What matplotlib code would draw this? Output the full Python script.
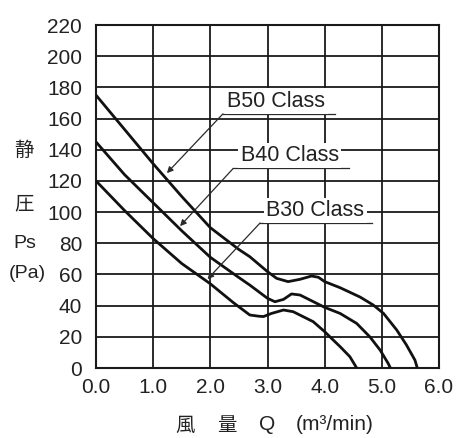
import numpy as np
import matplotlib
matplotlib.use("Agg")
import matplotlib.pyplot as plt

# P-Q curves
b50_q = [0.0, 0.5, 1.0, 1.5, 2.0, 2.5, 2.69, 3.0, 3.16, 3.36, 3.57, 3.77, 3.89, 4.0,
         4.27, 4.62, 4.85, 5.03, 5.26, 5.43, 5.58, 5.62]
b50_p = [175, 153, 131, 110, 90, 76, 71.4, 61.8, 57.5, 55.4, 56.9, 59, 58.2, 55.4,
         51.5, 45.5, 40.4, 35, 24.4, 14.8, 5, 0]

b40_q = [0.0, 0.5, 1.0, 1.5, 2.0, 2.5, 2.69, 3.0, 3.13, 3.28, 3.42, 3.57, 4.0,
         4.27, 4.56, 4.79, 4.97, 5.11, 5.15]
b40_p = [145, 124, 106, 88, 71, 58, 53.2, 44.7, 42.5, 44, 47.5, 46.8, 38.9,
         35, 28.6, 20, 11.5, 3, 0]

b30_q = [0.0, 0.5, 1.0, 1.5, 2.0, 2.4, 2.69, 2.85, 2.93, 3.07, 3.28, 3.45, 3.8,
         4.0, 4.12, 4.27, 4.44, 4.56]
b30_p = [120, 101, 83, 67, 54, 42, 34, 33.2, 33, 35, 37.2, 36.1, 29.7,
         23.3, 19, 13.7, 7.3, 0]

x_ticks = [0.0, 1.0, 2.0, 3.0, 4.0, 5.0, 6.0]
y_ticks = list(range(0, 221, 20))

LAT = ["Liberation Sans", "DejaVu Sans"]
CJK = ["Noto Sans CJK JP", "DejaVu Sans"]
TXT = "#222222"

fig = plt.figure(figsize=(4.58, 4.38), dpi=100)
ax = fig.add_axes([96 / 458, 70 / 438, 343 / 458, 343 / 438])

for q, p in [(b50_q, b50_p), (b40_q, b40_p), (b30_q, b30_p)]:
    ax.plot(q, p, color="#111111", lw=2.0, solid_joinstyle="round",
            solid_capstyle="round", zorder=3)

ax.set_xlim(0, 6)
ax.set_ylim(0, 220)
ax.set_xticks(x_ticks, labels=["{:.1f}".format(v) for v in x_ticks])
ax.set_yticks(y_ticks, labels=[str(v) for v in y_ticks])
ax.tick_params(length=0, labelsize=15, labelcolor=TXT)
ax.tick_params(axis="x", pad=7)
ax.tick_params(axis="y", pad=10)
for lab in ax.get_xticklabels() + ax.get_yticklabels():
    lab.set_family(LAT)
ax.grid(True, color="#1a1a1a", lw=1.3)
ax.set_axisbelow(True)
for s in ax.spines.values():
    s.set_color("#1a1a1a")
    s.set_linewidth(1.5)

# class labels with leader lines
labels = [("B50 Class", (2.22, 163.0), (4.18, 163.0), (1.24, 125.0), 2.30),
          ("B40 Class", (2.40, 128.0), (4.42, 128.0), (1.47, 91.0), 2.53),
          ("B30 Class", (2.87, 93.0), (4.83, 93.0), (1.95, 57.0), 2.98)]
for name, p0, p1, tip, tx in labels:
    ax.plot([p0[0], p1[0]], [p0[1], p1[1]], color="#2a2a2a", lw=0.9, zorder=4)
    ax.annotate("", xy=tip, xytext=p0,
                arrowprops=dict(arrowstyle="-|>", color="#2a2a2a", lw=0.9,
                                mutation_scale=9, shrinkA=0, shrinkB=0),
                zorder=4)
    ax.text(tx, p0[1] + 1.5, name, fontsize=15.5, family=LAT, color=TXT,
            ha="left", va="bottom", zorder=5,
            bbox=dict(facecolor="white", edgecolor="none", pad=1.5))

# y axis label, stacked
fig.text(24 / 458, 1 - 150 / 438, "静", fontsize=14, family=CJK, color=TXT,
         ha="center", va="center")
fig.text(24 / 458, 1 - 204 / 438, "圧", fontsize=14, family=CJK, color=TXT,
         ha="center", va="center")
fig.text(25 / 458, 1 - 244 / 438, "Ps", fontsize=14, family=LAT, color=TXT,
         ha="center", va="center")
fig.text(27 / 458, 1 - 273 / 438, "(Pa)", fontsize=14, family=LAT, color=TXT,
         ha="center", va="center")

# x axis label
fig.text(185 / 458, 1 - 425 / 438, "風", fontsize=14, family=CJK, color=TXT,
         ha="center", va="center")
fig.text(227 / 458, 1 - 425 / 438, "量", fontsize=14, family=CJK, color=TXT,
         ha="center", va="center")
fig.text(267 / 458, 1 - 425 / 438, "Q", fontsize=15, family=LAT, color=TXT,
         ha="center", va="center")
fig.text(335 / 458, 1 - 425 / 438, "(m³/min)", fontsize=15, family=LAT,
         color=TXT, ha="center", va="center")

fig.savefig("out.png", dpi=100)
